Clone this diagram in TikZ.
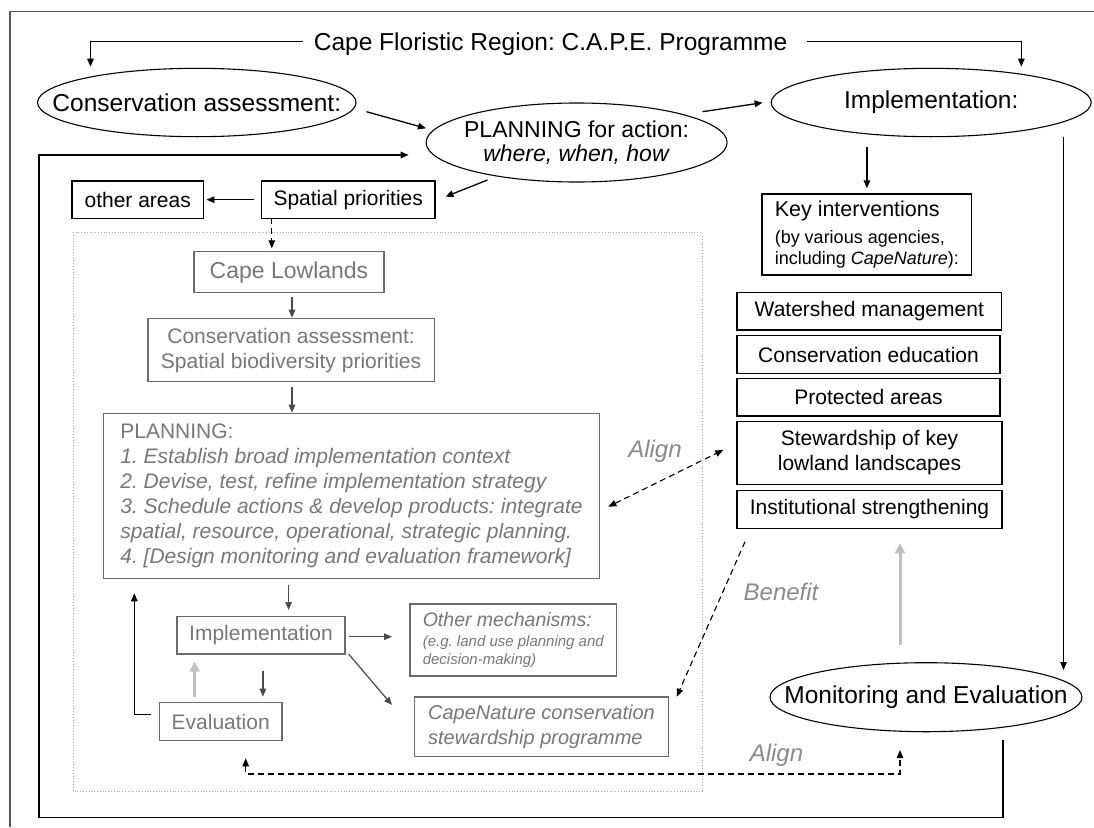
\documentclass[tikz,border=0pt]{standalone}
\usepackage{fontspec}
\setmainfont{Liberation Sans}
\usetikzlibrary{shapes.geometric,arrows.meta}
\definecolor{gtext}{HTML}{777777}
\definecolor{gline}{HTML}{6A6A6A}
\definecolor{glab}{HTML}{8A8A8A}
\definecolor{garrow}{HTML}{C0C0C0}
\definecolor{framec}{HTML}{555555}
\definecolor{inarr}{HTML}{4A4A4A}
\definecolor{dotc}{HTML}{A8A8A8}
\frenchspacing
\begin{document}
\begin{tikzpicture}[x=1pt,y=-1pt,
  every node/.style={inner sep=0pt,outer sep=0pt},
  tipA/.tip={Triangle[length=8pt,width=6.5pt]},
  arr/.style={line width=1.3pt,-tipA},
  iarr/.style={line width=1.2pt,draw=inarr,-{Triangle[length=8pt,width=6.5pt,fill=inarr]}},
  darr/.style={line width=1.1pt,dash pattern=on 6pt off 4pt,tipA-tipA},
  sdarr/.style={line width=1.1pt,dash pattern=on 6pt off 4pt,-tipA},
  gthick/.style={line width=3pt,draw=garrow,-{Triangle[length=10pt,width=10pt,fill=garrow]}},
  ell/.style={ellipse,draw,line width=1.1pt},
  big/.style={font=\fontsize{24.5}{28}\selectfont},
  pfont/.style={font=\fontsize{23}{23.5}\selectfont,align=center},
  bbox/.style={draw=black,line width=1.2pt,font=\fontsize{21}{25}\selectfont,align=center},
  gbox/.style={draw=gline,line width=1.2pt,text=gtext,font=\fontsize{21}{25}\selectfont,align=center},
  glabel/.style={text=glab,font=\fontsize{24}{28}\selectfont\itshape}
]
\useasboundingbox (0,0) rectangle (1094,827);
% page frame
\draw[line width=1.5pt,framec] (9.8,827) -- (9.8,11.7) -- (1094,11.7);
% dotted region
\draw[dotc,line width=0.8pt,dotted] (73.4,232.3) rectangle (702,791);

% title
\node[big] (title) at (550.6,44) {Cape Floristic Region: C.A.P.E. Programme};

% ellipses
\node[ell,minimum width=318.5pt,minimum height=68.4pt,label={[big]center:Conservation assessment:}] (cons) at (196.8,102.5) {};
\node[ell,minimum width=301pt,minimum height=79pt,label={[pfont]center:PLANNING for action:\\\textit{where, when, how}}] (plan) at (576.6,142.5) {};
\node[ell,minimum width=320pt,minimum height=68.4pt,label={[big]center:Implementation:}] (impl) at (931.2,102.5) {};
\node[ell,minimum width=312pt,minimum height=69pt,label={[big]center:Monitoring and Evaluation}] (me) at (926,697.2) {};

% black boxes
\node[bbox,minimum width=131.4pt,minimum height=37.3pt] (other) at (137.7,199.7) {other areas};
\node[bbox,minimum width=173.7pt,minimum height=37.3pt] (spat) at (348.2,199.7) {Spatial priorities};
\node[bbox,minimum width=209.5pt,minimum height=81pt,align=left,font=\fontsize{18}{21}\selectfont] (key) at (866.8,234.5)
  {\fontsize{21.5}{25}\selectfont Key interventions\\[6pt]
   \fontsize{18}{21}\selectfont (by various agencies,\\
   \fontsize{18}{21}\selectfont including \textit{CapeNature}):};
\node[bbox,minimum width=264.7pt,minimum height=37.3pt] (ws) at (869.3,311.3) {Watershed management};
\node[bbox,minimum width=263pt,minimum height=37.6pt] (ce) at (868.5,354.5) {Conservation education};
\node[bbox,minimum width=263pt,minimum height=37.3pt] (pa) at (868.5,397.3) {Protected areas};
\node[bbox,minimum width=265pt,minimum height=62.6pt] (st) at (869.5,453) {Stewardship of key\\lowland landscapes};
\node[bbox,minimum width=265pt,minimum height=37.6pt] (is) at (869.5,509.5) {Institutional strengthening};

% gray boxes
\node[gbox,minimum width=190pt,minimum height=41pt,font=\fontsize{23}{27}\selectfont] (cl) at (289,272.2) {Cape Lowlands};
\node[gbox,minimum width=286.4pt,minimum height=63pt] (ca) at (291.1,350.2) {Conservation assessment:\\Spatial biodiversity priorities};
\node[gbox,minimum width=495.7pt,minimum height=165pt,align=left] (pl) at (351.5,495.8)
  {PLANNING:\\
   \textit{1. Establish broad implementation context}\\
   \textit{2. Devise, test, refine implementation strategy}\\
   \textit{3. Schedule actions \& develop products: integrate}\\
   \textit{spatial, resource, operational, strategic planning.}\\
   \textit{4. [Design monitoring and evaluation framework]}};
\node[gbox,minimum width=168pt,minimum height=37.3pt] (im) at (261,635.3) {Implementation};
\node[gbox,minimum width=206.7pt,minimum height=72pt,align=left,font=\fontsize{15}{18}\selectfont\itshape] (om) at (513.3,640)
  {\fontsize{19.5}{20}\selectfont\itshape Other mechanisms:\\[2pt]
   \fontsize{15}{18}\selectfont\itshape (e.g. land use planning and\\
   \fontsize{15}{18}\selectfont\itshape decision-making)};
\node[gbox,minimum width=253.7pt,minimum height=59.7pt,align=left,font=\fontsize{20}{25}\selectfont\itshape] (cn) at (541.5,726.8)
  {CapeNature conservation\\stewardship programme};
\node[gbox,minimum width=122.7pt,minimum height=38.4pt] (ev) at (220.7,721.5) {Evaluation};

% labels
\node[glabel] (al1) at (655,451.7) {Align};
\node[glabel] (ben) at (781,591.7) {Benefit};
\node[glabel] (al2) at (776.5,755) {Align};

% coordinates for connector ends
\coordinate (tA) at (303,41.7);   \coordinate (tAe) at (90.5,66.7);
\coordinate (tB) at (806.8,41.7); \coordinate (tBe) at (1021.3,66.7);
\coordinate (c1) at (366.5,111.7); \coordinate (c2) at (426,128.3);
\coordinate (p1) at (702.5,111.7); \coordinate (p2) at (762.6,102.7);
\coordinate (k1) at (866.9,146.7); \coordinate (k2) at (866.9,188.3);
\coordinate (s1) at (487.5,180);   \coordinate (s2) at (445.5,196.7);
\coordinate (r1) at (1063.5,136.7); \coordinate (r2) at (1063.5,670);
\coordinate (L0) at (1003,740); \coordinate (L1) at (1003,817.5); \coordinate (L2) at (39,817.5);
\coordinate (L3) at (39,155); \coordinate (L4) at (408.6,155);
\coordinate (e1) at (151,714.3); \coordinate (e2) at (134.3,593.3);
\coordinate (a1) at (608.3,506.7); \coordinate (a2) at (723.3,450);
\coordinate (b1) at (745,541.7); \coordinate (b2) at (676.7,696.7);
\coordinate (g1) at (900,645); \coordinate (g2) at (900,543.3);
\coordinate (d1) at (245.7,758.3); \coordinate (d2) at (245.7,774); \coordinate (d3) at (900,774); \coordinate (d4) at (900,750);

% black connectors
\draw[arr] (tA) -| (tAe);
\draw[arr] (tB) -| (tBe);
\draw[arr] (c1) -- (c2);
\draw[arr] (p1) -- (p2);
\draw[arr] (k1) -- (k2);
\draw[arr] (s1) -- (s2);
\draw[arr] (spat.west) ++(-7,0) -- ([xshift=3pt]other.east);
\draw[arr] (r1) -- (r2);
\draw[arr] (L0) -- (L1) -- (L2) -- (L3) -- (L4);
\draw[arr] (e1) -| (e2);

% dashed
\draw[sdarr] ([xshift=-76.4pt]spat.south) -- (271.8,248.3);
\draw[darr] (a1) -- (a2);
\draw[sdarr] (b1) -- (b2);
\draw[darr] (d1) -- (d2) -- (d3) -- (d4);

% gray inner arrows
\draw[iarr] (292,297) -- (292,317.7);
\draw[iarr] (292,386.7) -- (292,412.7);
\draw[iarr] (288.6,585) -- (288.6,610);
\draw[iarr] (348.6,636.7) -- (392,636.7);
\draw[iarr] (348.6,654) -- (392,705);
\draw[iarr] (262.9,670.7) -- (262.9,696.7);
\draw[gthick] (194.6,697) -- (194.6,661.7);
\draw[gthick] (g1) -- (g2);
\end{tikzpicture}
\end{document}
